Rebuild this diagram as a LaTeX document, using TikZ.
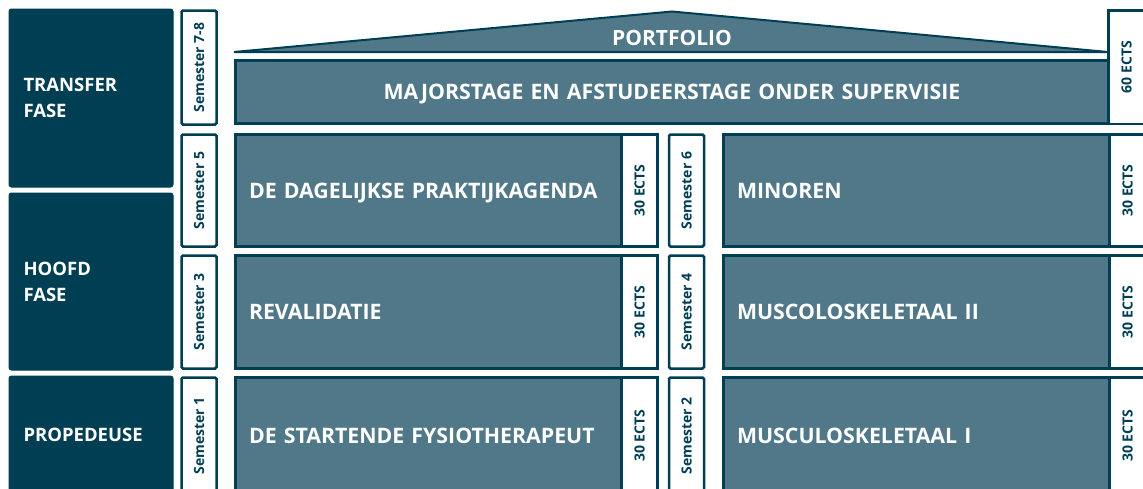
\documentclass[tikz,border=0pt]{standalone}
\usepackage{fontspec}
\setmainfont{Open Sans}
\usepackage{tikz}
\definecolor{donker}{RGB}{0,62,84}
\definecolor{leisteen}{RGB}{80,120,137}

\begin{document}
\begin{tikzpicture}[x=1pt, y=-1pt,
    fase/.style={fill=donker, draw=donker, line width=1pt, rounded corners=2.5pt,
      text=white, font=\bfseries\fontsize{18.5}{26}\selectfont, align=left,
      text height=13.2pt, text depth=0pt,
      anchor=north west, minimum width=164pt, text width=135pt, inner xsep=14.5pt, outer sep=0pt},
    blok/.style={fill=leisteen, draw=donker, line width=2.5pt,
      text=white, font=\bfseries\fontsize{21.3}{26}\selectfont, align=left,
      text height=15.2pt, text depth=0pt,
      anchor=north west, text width=359pt, inner xsep=13.5pt, outer sep=0pt},
    sem/.style={fill=white, draw=donker, line width=2.5pt, rounded corners=1.5pt, rotate=90,
      text=donker, font=\bfseries\fontsize{14}{16}\selectfont,
      text height=10pt, text depth=0pt,
      minimum height=35pt, inner sep=0pt, outer sep=0pt},
    ects/.style={sem, rounded corners=0pt, minimum height=36pt}
  ]
  \useasboundingbox (0,0) rectangle (1143,488);
  \clip (0,0) rectangle (1143,488);

  % 阶段
  \node[fase, text depth=26pt, minimum height=178pt] (transfer) at (9,9) {TRANSFER\\FASE};
  \node[fase, text depth=26pt, minimum height=177pt] (hoofd) at (9,193) {HOOFD\\FASE};
  \node[fase, minimum height=118pt] (prop) at (9,376) {PROPEDEUSE};

  % 学期
  \node[sem, minimum width=114pt] (s78) at (199,67.5) {Semester 7-8};
  \node[sem, minimum width=112pt] (s5) at (199,190.5) {Semester 5};
  \node[sem, minimum width=113pt] (s3) at (199,312) {Semester 3};
  \node[sem, minimum width=116.5pt] (s1) at (199,435.75) {Semester 1};
  \node[sem, minimum width=112pt] (s6) at (686.5,190.5) {Semester 6};
  \node[sem, minimum width=113pt] (s4) at (686.5,312) {Semester 4};
  \node[sem, minimum width=116.5pt] (s2) at (686.5,435.75) {Semester 2};

  % 屋顶
  \draw[fill=leisteen, draw=donker, line width=2pt, line join=miter]
    (234,52) -- (672,11.5) -- (1108,52) -- cycle;
  \node[text=white, font=\bfseries\fontsize{21}{24}\selectfont] (portfolio) at (672,38) {PORTFOLIO};

  % 大块
  \node[blok, text width=846pt, align=center, minimum height=63pt] (major) at (235.5,60.5)
    {MAJORSTAGE EN AFSTUDEERSTAGE ONDER SUPERVISIE};
  \node[ects, minimum width=113.5pt] (e60) at (1126.5,67.25) {60 ECTS};

  \node[blok, minimum height=112pt] (praktijk) at (235.5,134.5) {DE DAGELIJKSE PRAKTIJKAGENDA};
  \node[blok, minimum height=113pt] (reval) at (235.5,255.5) {REVALIDATIE};
  \node[blok, minimum height=116.5pt] (start) at (235.5,377.5) {DE STARTENDE FYSIOTHERAPEUT};
  \node[blok, minimum height=112pt] (minoren) at (723.5,134.5) {MINOREN};
  \node[blok, minimum height=113pt] (msk2) at (723.5,255.5) {MUSCOLOSKELETAAL II};
  \node[blok, minimum height=116.5pt] (msk1) at (723.5,377.5) {MUSCULOSKELETAAL I};

  % ECTS
  \node[ects, minimum width=112pt] (e5) at (639.5,190.5) {30 ECTS};
  \node[ects, minimum width=113pt] (e3) at (639.5,312) {30 ECTS};
  \node[ects, minimum width=116.5pt] (e1) at (639.5,435.75) {30 ECTS};
  \node[ects, minimum width=112pt] (e6) at (1127.5,190.5) {30 ECTS};
  \node[ects, minimum width=113pt] (e4) at (1127.5,312) {30 ECTS};
  \node[ects, minimum width=116.5pt] (e2) at (1127.5,435.75) {30 ECTS};
\end{tikzpicture}
\end{document}
